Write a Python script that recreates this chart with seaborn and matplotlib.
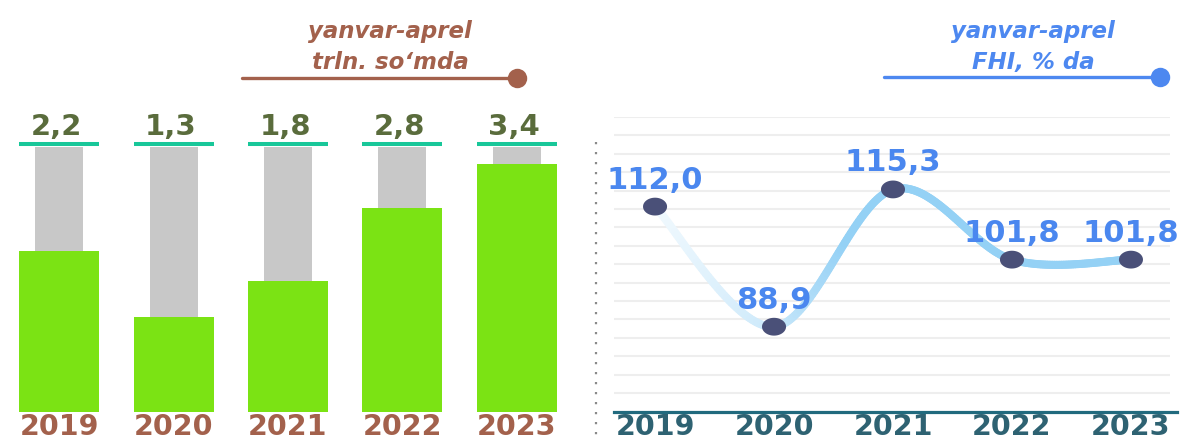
import numpy as np
import pandas as pd
import matplotlib
matplotlib.use("Agg")
import matplotlib.pyplot as plt
import seaborn as sns
from matplotlib.lines import Line2D
from matplotlib.path import Path
from matplotlib.collections import LineCollection
from matplotlib import transforms

# ---- data ----
years = ["2019", "2020", "2021", "2022", "2023"]
volume = [2.2, 1.3, 1.8, 2.8, 3.4]                 # trln. so'm, yanvar-aprel
volume_labels = ["2,2", "1,3", "1,8", "2,8", "3,4"]
index_pct = [112.0, 88.9, 115.3, 101.8, 101.8]     # FHI, %
index_labels = ["112,0", "88,9", "115,3", "101,8", "101,8"]
track_max = 3.63                                   # height of the grey background track

# ---- style ----
sns.set_theme(style="white")
plt.rcParams["font.family"] = ["DejaVu Sans"]

BROWN = "#a3614c"
OLIVE = "#5a6c3c"
GREEN = "#7be314"
GREY = "#c8c8c8"
TEAL = "#18c799"
BLUE = "#4a87ef"
LINE_BLUE = np.array([0.56, 0.81, 0.96])
NAVY = "#4a5078"
AXIS_TEAL = "#216a7e"

W, H = 1192, 442
fig = plt.figure(figsize=(W / 100, H / 100), dpi=100)


def fx(x):
    return x / W


def fy(y):
    return 1 - y / H


# ================= left panel: bars =================
ax1 = fig.add_axes([0, fy(412), fx(590), (412 - 147) / H])
df1 = pd.DataFrame({"year": years, "value": volume, "track": [track_max] * len(years)})
sns.barplot(data=df1, x="year", y="track", color=GREY, width=0.42,
            saturation=1, errorbar=None, linewidth=0, ax=ax1)
sns.barplot(data=df1, x="year", y="value", color=GREEN, width=0.70,
            saturation=1, errorbar=None, linewidth=0, ax=ax1)
ax1.set_xlim(-0.517, 4.64)
ax1.set_ylim(0, track_max)
for s in ax1.spines.values():
    s.set_visible(False)
ax1.set_xlabel("")
ax1.set_ylabel("")
ax1.set_yticks([])
ax1.set_xticks(range(len(years)))
ax1.set_xticklabels(years, fontsize=20.5, fontweight="bold", color=BROWN)
ax1.tick_params(axis="x", length=0, pad=1)

cap_tr = transforms.offset_copy(ax1.transData, fig=fig, y=3, units="dots")
for i, lbl in enumerate(volume_labels):
    ax1.plot([i - 0.35, i + 0.35], [track_max, track_max], color=TEAL, lw=2.9,
             solid_capstyle="butt", transform=cap_tr, clip_on=False)
    ax1.annotate(lbl, xy=(i, track_max), xytext=(-2, 8.6), textcoords="offset points",
                 ha="center", va="baseline", fontsize=21, fontweight="bold", color=OLIVE,
                 annotation_clip=False)

# ================= right panel: line =================
ylo, yhi = 72.5, 129.23
ax2 = fig.add_axes([fx(614), fy(412), fx(1177 - 614), (412 - 117) / H])
df2 = pd.DataFrame({"year": years, "index": index_pct})

# elliptical marker
theta = np.linspace(0, 2 * np.pi, 60)
ellipse = Path(np.column_stack([1.35 * np.cos(theta), np.sin(theta)]), closed=True)
sns.scatterplot(data=df2, x="year", y="index", marker=ellipse, s=300, color=NAVY,
                edgecolor="none", zorder=5, ax=ax2)

# smooth Catmull-Rom curve through the points
pts = np.column_stack([np.arange(len(index_pct)), index_pct]).astype(float)
curve = []
for i in range(len(pts) - 1):
    p0 = pts[max(i - 1, 0)]
    p1 = pts[i]
    p2 = pts[i + 1]
    p3 = pts[min(i + 2, len(pts) - 1)]
    c1 = p1 + (p2 - p0) / 6
    c2 = p2 - (p3 - p1) / 6
    t = np.linspace(0, 1, 60)[:, None]
    seg = ((1 - t) ** 3) * p1 + 3 * ((1 - t) ** 2) * t * c1 + 3 * (1 - t) * t ** 2 * c2 + t ** 3 * p2
    curve.append(seg if i == 0 else seg[1:])
curve = np.vstack(curve)
segs = np.stack([curve[:-1], curve[1:]], axis=1)
mid_x = (curve[:-1, 0] + curve[1:, 0]) / 2
strength = np.interp(mid_x, [0, 1, 1.6, 4], [0.12, 0.45, 0.95, 0.95])
cols = 1 - strength[:, None] * (1 - LINE_BLUE[None, :])
lc = LineCollection(segs, colors=cols, linewidths=5.8, capstyle="round", zorder=3)
ax2.add_collection(lc)

for i, (lbl, v) in enumerate(zip(index_labels, index_pct)):
    ax2.annotate(lbl, xy=(i, v), xytext=(0, 13), textcoords="offset points",
                 ha="center", va="baseline", fontsize=22, fontweight="bold", color=BLUE,
                 annotation_clip=False, zorder=6)

ax2.set_xlim(-0.345, 4.387)
ax2.set_ylim(ylo, yhi)
step = (yhi - ylo) * 18.4 / 295
grid_vals = yhi - step * np.arange(16)
ax2.hlines(grid_vals, 0, 0.9876, transform=ax2.get_yaxis_transform(),
           color="#eeeeee", lw=1.5, zorder=1)
for k in ["top", "right", "left"]:
    ax2.spines[k].set_visible(False)
ax2.spines["bottom"].set_color(AXIS_TEAL)
ax2.spines["bottom"].set_linewidth(2.3)
ax2.set_xlabel("")
ax2.set_ylabel("")
ax2.set_yticks([])
ax2.set_xticks(range(len(years)))
ax2.set_xticklabels(years, fontsize=20.5, fontweight="bold", color="#2e6272")
ax2.tick_params(axis="x", length=0, pad=1)

# dotted divider
fig.add_artist(Line2D([fx(596), fx(596)], [fy(142), fy(440)], color="#8a8a8a",
                      lw=1.6, linestyle=(0, (1, 3.5))))

# ================= headings =================
def heading(lines, cx, color, x0, x1, ly):
    for j, t in enumerate(lines):
        fig.text(fx(cx), fy(38 + 31 * j), t, ha="center", va="baseline", fontsize=16.5,
                 fontweight="bold", fontstyle="italic", color=color)
    fig.add_artist(Line2D([fx(x0), fx(x1)], [fy(ly), fy(ly)], color=color, lw=2.4))
    fig.add_artist(Line2D([fx(x1)], [fy(ly)], marker="o", markersize=14,
                          color=color, markeredgewidth=0))


heading(["yanvar-aprel", "trln. so\u2018mda"], 390, BROWN, 242, 517, 78)
heading(["yanvar-aprel", "FHI, % da"], 1033, "#4d88f0", 884, 1160, 77)

fig.savefig("out.png", dpi=100)
